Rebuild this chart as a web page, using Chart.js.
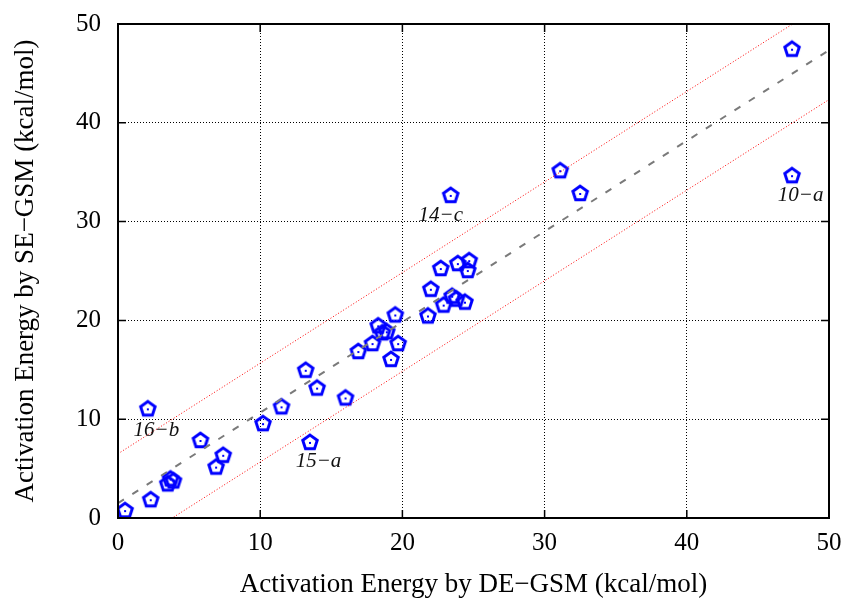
<!DOCTYPE html>
<html>
<head>
<meta charset="utf-8">
<script src="https://cdn.jsdelivr.net/npm/chart.js@4/dist/chart.umd.min.js"></script>
<style>
  html, body { margin: 0; padding: 0; background: #fff; }
  #wrap { width: 849px; height: 601px; }
</style>
</head>
<body>
<div id="wrap"><canvas id="chart" width="849" height="601"></canvas></div>
<script>
// activation energies, DE-GSM (x) vs SE-GSM (y), kcal/mol
const deGsm = [0.5, 2.3, 2.1, 3.5, 3.7, 3.9, 5.8, 6.9, 7.4, 10.2, 11.5, 13.2, 13.5, 14.0, 16.0,
  16.9, 17.9, 18.3, 18.6, 18.9, 19.2, 19.5, 19.7, 21.8, 22.0, 22.7, 22.9, 23.4, 23.5, 23.8,
  23.9, 24.4, 24.6, 24.7, 31.1, 32.5, 47.4, 47.4];
const seGsm = [0.8, 1.9, 11.1, 3.5, 4.0, 3.8, 7.9, 5.2, 6.4, 9.6, 11.3, 15.0, 7.7, 13.2, 12.2,
  16.9, 17.7, 19.5, 18.8, 18.9, 16.1, 20.6, 17.7, 20.5, 23.2, 25.3, 21.6, 32.7, 22.5, 22.2,
  25.8, 21.9, 25.1, 26.1, 35.2, 32.9, 47.5, 34.7];

// fit line and +/- 5 kcal/mol band
const fitX = [0, 50];
const fitY = [1.5, 47.35];
const upperY = [6.5, 52.35];
const lowerY = [-3.5, 42.35];

// outlier labels
const labelText = ['14\u2212c', '10\u2212a', '16\u2212b', '15\u2212a'];
const labelX = [22.7, 48.0, 2.7, 14.1];
const labelY = [30.6, 32.6, 8.9, 5.7];

const tickValues = [0, 10, 20, 30, 40, 50];

function pentagon() {
  const c = document.createElement('canvas');
  c.width = 22; c.height = 22;
  const g = c.getContext('2d');
  const r = 7.6;
  g.beginPath();
  for (let i = 0; i < 5; i++) {
    const a = -Math.PI / 2 + i * 2 * Math.PI / 5;
    const px = 11 + r * Math.cos(a), py = 11.7 + r * Math.sin(a);
    if (i === 0) g.moveTo(px, py); else g.lineTo(px, py);
  }
  g.closePath();
  g.strokeStyle = '#0000ff';
  g.lineWidth = 3;
  g.lineJoin = 'miter';
  g.stroke();
  g.fillStyle = '#0000ff';
  g.fillRect(10, 11, 2, 2);
  return c;
}

const toPts = (xs, ys) => xs.map((x, i) => ({ x: x, y: ys[i] }));

// short solid ticks pointing inwards on all four sides
const innerTicks = {
  id: 'innerTicks',
  afterDraw(chart) {
    const { ctx, chartArea: a, scales } = chart;
    ctx.save();
    ctx.strokeStyle = '#000';
    ctx.lineWidth = 1.5;
    ctx.beginPath();
    tickValues.forEach(v => {
      const px = scales.x.getPixelForValue(v);
      const py = scales.y.getPixelForValue(v);
      ctx.moveTo(px, a.bottom); ctx.lineTo(px, a.bottom - 8);
      ctx.moveTo(px, a.top); ctx.lineTo(px, a.top + 8);
      ctx.moveTo(a.left, py); ctx.lineTo(a.left + 8, py);
      ctx.moveTo(a.right, py); ctx.lineTo(a.right - 8, py);
    });
    ctx.stroke();
    // frame
    ctx.lineWidth = 2;
    ctx.strokeRect(a.left, a.top, a.right - a.left, a.bottom - a.top);
    ctx.restore();
  }
};

const pointLabels = {
  id: 'pointLabels',
  afterDatasetsDraw(chart) {
    const { ctx, scales } = chart;
    ctx.save();
    ctx.fillStyle = '#111';
    ctx.font = 'italic 21px "Liberation Serif"';
    ctx.textAlign = 'center';
    ctx.textBaseline = 'middle';
    labelText.forEach((t, i) => {
      ctx.fillText(t, scales.x.getPixelForValue(labelX[i]), scales.y.getPixelForValue(labelY[i]));
    });
    ctx.restore();
  }
};

const tickFont = { family: '"Liberation Serif", "DejaVu Serif", serif', size: 25 };
const titleFont = { family: '"Liberation Serif", "DejaVu Serif", serif', size: 27 };

new Chart(document.getElementById('chart'), {
  type: 'scatter',
  data: {
    datasets: [
      {
        label: 'upper',
        type: 'line',
        data: toPts(fitX, upperY),
        borderColor: '#ff0000',
        borderWidth: 1,
        borderDash: [1, 2],
        pointRadius: 0,
        fill: false
      },
      {
        label: 'lower',
        type: 'line',
        data: toPts(fitX, lowerY),
        borderColor: '#ff0000',
        borderWidth: 1,
        borderDash: [1, 2],
        pointRadius: 0,
        fill: false
      },
      {
        label: 'fit',
        type: 'line',
        data: toPts(fitX, fitY),
        borderColor: '#7a7a7a',
        borderWidth: 2,
        borderDash: [7, 10],
        pointRadius: 0,
        fill: false
      },
      {
        label: 'SE-GSM vs DE-GSM',
        data: toPts(deGsm, seGsm),
        pointStyle: pentagon(),
        pointRadius: 8,
        pointHoverRadius: 8
      }
    ]
  },
  options: {
    responsive: false,
    animation: false,
    layout: { padding: { top: 24, right: 20, left: 0, bottom: 0 } },
    plugins: {
      legend: { display: false },
      tooltip: { enabled: false }
    },
    scales: {
      x: {
        type: 'linear',
        min: 0, max: 50,
        afterFit(s) { s.height = 83; s.paddingLeft = 0; s.paddingRight = 0; },
        afterBuildTicks(s) { s.ticks = tickValues.map(v => ({ value: v })); },
        grid: { color: '#000', lineWidth: 1, drawTicks: false },
        border: { display: true, color: '#000', width: 2, dash: [1, 2] },
        ticks: { color: '#000', font: tickFont, padding: 10, maxRotation: 0 },
        title: {
          display: true,
          text: 'Activation Energy by DE\u2212GSM (kcal/mol)',
          color: '#000',
          font: titleFont,
          padding: { top: 2, bottom: 0 }
        }
      },
      y: {
        type: 'linear',
        min: 0, max: 50,
        afterFit(s) { s.width = 118; s.paddingTop = 0; s.paddingBottom = 0; },
        afterBuildTicks(s) { s.ticks = tickValues.map(v => ({ value: v })); },
        grid: { color: '#000', lineWidth: 1, drawTicks: false },
        border: { display: true, color: '#000', width: 2, dash: [1, 2] },
        ticks: { color: '#000', font: tickFont, padding: 17 },
        title: {
          display: true,
          text: 'Activation Energy by SE\u2212GSM (kcal/mol)',
          color: '#000',
          font: titleFont,
          padding: { top: 10, bottom: 0 }
        }
      }
    }
  },
  plugins: [innerTicks, pointLabels]
});
</script>
</body>
</html>
